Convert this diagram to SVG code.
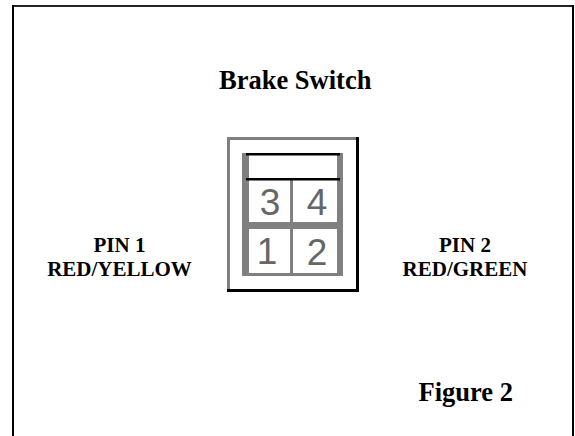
<svg xmlns="http://www.w3.org/2000/svg" width="575" height="436" viewBox="0 0 575 436">
<style>
.t{font-family:"Liberation Serif","Times New Roman",serif;font-weight:bold;fill:#000}
.h{font-size:26.500px}
.s{font-size:21px;text-anchor:middle}
.d{font-family:"Liberation Sans",Arial,sans-serif;font-size:37px;fill:#666;text-anchor:middle}
.g{fill:#808080}
.k{fill:#000}
</style>
<rect width="575" height="436" fill="#fff"/>
<g id="frame">
<rect x="12" y="5" width="562" height="2" fill="#222"/>
<rect x="12" y="5" width="2" height="431" class="k"/>
<rect x="572" y="5" width="2" height="431" class="k"/>
</g>
<g id="title"><text class="t h" x="219" y="89">Brake Switch</text></g>
<g id="switch">
<rect x="227" y="137" width="132" height="3" class="g"/>
<rect x="227" y="137" width="3" height="155" class="g"/>
<rect x="356" y="137" width="3" height="155" class="k"/>
<rect x="227" y="289" width="132" height="3" class="k"/>
<rect x="242" y="153" width="7" height="123" class="g"/>
<rect x="337" y="153" width="6" height="123" class="g"/>
<rect x="244" y="273" width="97" height="3" class="g"/>
<rect x="245" y="222" width="95" height="7" class="g"/>
<rect x="290" y="180" width="3" height="94" class="g"/>
<rect x="246" y="153" width="94" height="2.500" class="k"/>
<rect x="246" y="178" width="94" height="2.500" class="k"/>
<text class="d" x="270" y="215">3</text>
<text class="d" x="317" y="215">4</text>
<text class="d" x="267" y="264">1</text>
<text class="d" x="317" y="265">2</text>
</g>
<g id="pin1"><text class="t s" x="119.500" y="252">PIN 1</text><text class="t s" x="119.500" y="276">RED/YELLOW</text></g>
<g id="pin2"><text class="t s" x="465" y="252">PIN 2</text><text class="t s" x="465" y="276">RED/GREEN</text></g>
<g id="figure"><text class="t h" x="418.500" y="400.500">Figure 2</text></g>
</svg>
